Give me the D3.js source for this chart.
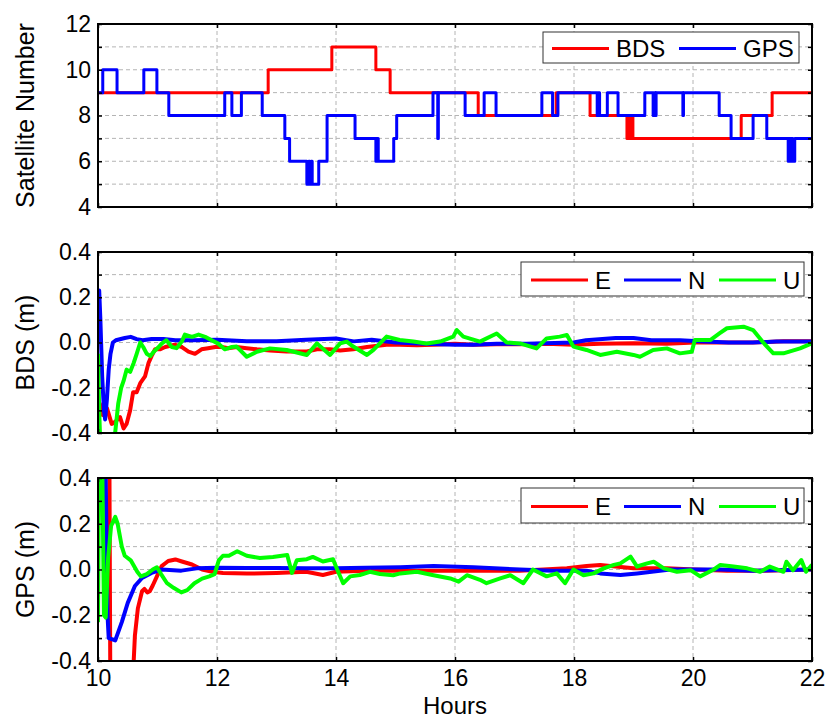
<!DOCTYPE html>
<html>
<head>
<meta charset="utf-8">
<script src="https://cdn.jsdelivr.net/npm/d3@7"></script>
<style>
body { margin: 0; background: #fff; }
text { font-family: "Liberation Sans", Arial, sans-serif; }
</style>
</head>
<body>
<svg width="826" height="720"></svg>
<script>
// ---- data: [hour, value] ----

// satellite counts (step changes)
var bdsSat = [[10,9],[12.86,10],[13.93,11],[14.67,10],[14.91,9],[16.39,8],[17.70,9],[18.27,8],
  [18.89,7],[18.92,8],[18.95,7],[18.97,8],[18.99,7],[20.81,8],[21.33,9],[22,9]];
var gpsSat = [[10,9],[10.08,10],[10.32,9],[10.77,10],[10.99,9],[11.19,8],[12.13,9],[12.25,8],[12.41,9],
  [12.76,8],[13.14,7],[13.22,6],[13.51,5],[13.54,6],[13.56,5],[13.58,6],[13.60,5],[13.71,6],[13.85,8],
  [14.32,7],[14.67,6],[14.69,7],[14.71,6],[14.97,7],[15.02,8],[15.63,9],[15.71,7],[15.72,9],[16.17,8],
  [16.49,9],[16.69,8],[17.46,9],[17.64,8],[17.73,9],[18.39,8],[18.41,9],[18.43,8],[18.56,9],[18.74,8],
  [19.19,9],[19.33,8],[19.35,9],[19.37,8],[19.38,9],[19.83,8],[19.84,9],[20.44,8],[20.64,7],[21.01,8],
  [21.24,7],[21.60,6],[21.62,7],[21.64,6],[21.66,7],[21.68,6],[21.71,7],[22,7]];

// BDS positioning errors (m)
var bdsE = [[10.00,-0.30],[10.03,-0.27],[10.08,-0.32],[10.15,-0.29],[10.23,-0.36],[10.29,-0.35],[10.37,-0.33],
  [10.43,-0.38],[10.48,-0.36],[10.54,-0.30],[10.59,-0.22],[10.65,-0.22],[10.71,-0.18],[10.79,-0.15],
  [10.85,-0.09],[10.90,-0.06],[10.96,-0.03],[11.04,-0.03],[11.13,-0.02],[11.29,-0.01],[11.41,-0.02],
  [11.52,-0.04],[11.63,-0.05],[11.74,-0.03],[11.85,-0.025],[11.97,-0.02],[12.08,-0.02],[12.19,-0.025],
  [12.33,-0.02],[12.50,-0.025],[12.67,-0.03],[12.89,-0.035],[13.17,-0.04],[13.51,-0.04],[13.68,-0.03],
  [13.90,-0.03],[14.07,-0.035],[14.29,-0.03],[14.52,-0.02],[14.85,-0.01],[15.07,-0.01],[15.36,-0.012],
  [15.64,-0.01],[16.00,-0.005],[16.31,-0.01],[16.70,-0.008],[17.09,-0.008],[17.54,-0.006],[17.99,-0.01],
  [18.44,-0.005],[19.00,-0.003],[19.56,-0.005],[20.03,0.0],[20.57,0.0],[21.01,0.0],[21.52,0.005],[22.00,0.005]];
var bdsN = [[10.00,0.00],[10.02,0.23],[10.04,0.10],[10.07,-0.15],[10.10,-0.30],[10.12,-0.34],[10.15,-0.25],
  [10.18,-0.12],[10.21,-0.05],[10.25,0.00],[10.30,0.01],[10.45,0.02],[10.55,0.025],[10.65,0.015],
  [10.75,0.01],[10.90,0.015],[11.10,0.015],[11.30,0.01],[11.60,0.01],[12.00,0.012],[12.50,0.005],
  [13.00,0.005],[13.50,0.012],[14.00,0.018],[14.30,0.005],[14.60,0.012],[15.00,0.0],[15.50,-0.005],
  [16.00,-0.01],[16.30,-0.01],[16.70,-0.005],[17.20,-0.005],[17.99,0.0],[18.20,0.01],[18.70,0.02],
  [19.00,0.02],[19.30,0.01],[19.78,0.01],[20.10,0.005],[20.60,0.0],[21.00,0.0],[21.40,0.004],[22.00,0.004]];
var bdsU = [[10.00,-0.05],[10.02,-0.30],[10.04,-0.46],[10.12,-0.55],[10.22,-0.50],[10.28,-0.42],[10.34,-0.27],
  [10.39,-0.20],[10.43,-0.17],[10.48,-0.12],[10.54,-0.13],[10.60,-0.09],[10.65,-0.05],[10.71,0.0],
  [10.76,-0.02],[10.82,-0.05],[10.88,-0.06],[10.94,-0.04],[11.02,-0.02],[11.07,-0.005],[11.15,0.01],
  [11.24,-0.02],[11.32,-0.025],[11.41,0.005],[11.46,0.035],[11.58,0.025],[11.69,0.035],[11.80,0.025],
  [11.91,0.01],[12.02,-0.005],[12.13,-0.03],[12.25,-0.02],[12.33,-0.018],[12.50,-0.063],[12.67,-0.041],
  [12.89,-0.026],[13.17,-0.033],[13.51,-0.055],[13.68,-0.004],[13.90,-0.055],[14.07,-0.004],[14.18,0.004],
  [14.29,-0.018],[14.52,-0.055],[14.63,-0.033],[14.85,0.026],[15.07,0.011],[15.30,0.004],[15.52,-0.004],
  [15.75,0.004],[15.97,0.026],[16.03,0.055],[16.14,0.026],[16.42,0.004],[16.70,0.04],[16.87,0.0],
  [17.09,-0.004],[17.37,-0.026],[17.54,0.018],[17.76,0.026],[17.88,0.033],[17.99,-0.018],[18.21,-0.033],
  [18.44,-0.055],[18.72,-0.041],[19.00,-0.055],[19.11,-0.063],[19.33,-0.033],[19.56,-0.026],[19.78,-0.048],
  [19.98,-0.041],[20.03,0.011],[20.29,0.011],[20.45,0.041],[20.57,0.063],[20.85,0.07],[21.01,0.055],
  [21.18,0.0],[21.35,-0.048],[21.52,-0.048],[21.80,-0.026],[22.00,-0.004]];

// GPS positioning errors (m)
var gpsE = [[10.00,0.60],[10.19,0.60],[10.21,-0.70],[10.57,-0.60],[10.60,-0.40],[10.62,-0.29],[10.67,-0.17],
  [10.74,-0.095],[10.78,-0.085],[10.83,-0.10],[10.87,-0.095],[10.92,-0.07],[10.99,-0.03],[11.07,0.015],
  [11.18,0.037],[11.30,0.044],[11.41,0.035],[11.58,0.022],[11.75,0.0],[11.92,-0.01],[12.10,-0.015],
  [12.50,-0.018],[13.00,-0.015],[13.50,-0.01],[13.78,-0.024],[14.00,-0.01],[14.50,-0.005],[15.08,-0.005],
  [15.64,-0.005],[16.31,-0.005],[17.09,-0.005],[17.88,0.005],[18.21,0.015],[18.44,0.02],[19.00,0.005],
  [19.56,0.005],[20.03,0.0],[20.57,-0.005],[21.18,-0.005],[22.00,0.0]];
var gpsN = [[10.00,0.60],[10.12,0.60],[10.14,0.20],[10.16,-0.20],[10.18,-0.30],[10.29,-0.31],[10.40,-0.23],
  [10.50,-0.146],[10.62,-0.072],[10.74,-0.037],[10.90,-0.015],[11.07,0.0],[11.40,-0.005],[11.66,0.005],
  [12.00,0.008],[12.50,0.007],[13.00,0.007],[13.50,0.005],[14.00,0.005],[14.50,0.008],[15.08,0.01],
  [15.64,0.015],[16.31,0.01],[17.09,0.0],[17.64,-0.005],[18.21,-0.005],[18.44,-0.017],[18.78,-0.024],
  [19.06,-0.017],[19.62,0.0],[20.45,0.0],[21.01,-0.005],[22.00,0.0]];
var gpsU = [[10.00,-0.23],[10.02,0.50],[10.07,0.50],[10.10,-0.20],[10.13,-0.21],[10.17,0.05],[10.22,0.19],
  [10.29,0.23],[10.33,0.20],[10.40,0.10],[10.45,0.06],[10.55,0.04],[10.66,-0.01],[10.72,-0.03],[10.82,-0.02],
  [10.92,0.0],[10.99,0.01],[11.06,-0.02],[11.16,-0.06],[11.27,-0.08],[11.40,-0.10],[11.50,-0.09],[11.62,-0.06],
  [11.75,-0.04],[11.87,-0.03],[11.96,-0.02],[12.03,0.04],[12.10,0.06],[12.20,0.06],[12.34,0.08],[12.50,0.06],
  [12.72,0.05],[12.94,0.055],[13.18,0.063],[13.26,-0.015],[13.34,0.04],[13.51,0.045],[13.61,0.055],
  [13.78,0.035],[13.95,0.045],[14.02,0.0],[14.12,-0.06],[14.24,-0.03],[14.40,-0.024],[14.57,-0.01],
  [14.74,-0.02],[14.96,-0.025],[15.08,-0.017],[15.36,-0.01],[15.64,-0.025],[15.92,-0.039],[16.06,-0.053],
  [16.20,-0.025],[16.42,-0.045],[16.53,-0.06],[16.76,-0.039],[16.93,-0.025],[17.15,-0.06],[17.31,0.0],
  [17.54,-0.03],[17.71,-0.017],[17.85,-0.06],[17.99,0.0],[18.16,-0.025],[18.33,-0.017],[18.50,0.005],
  [18.67,0.02],[18.78,0.027],[18.95,0.056],[19.06,0.013],[19.23,0.027],[19.34,0.034],[19.51,0.005],
  [19.73,-0.01],[19.96,-0.003],[20.12,-0.03],[20.35,0.0],[20.46,0.02],[20.68,0.013],[20.91,0.005],
  [21.13,-0.01],[21.29,0.013],[21.52,-0.01],[21.57,0.034],[21.68,-0.003],[21.82,0.041],[21.90,-0.01],[22.00,0.02]];

// ticks
var hourTicks = [10, 12, 14, 16, 18, 20, 22];
var satTicks = [4, 5, 6, 7, 8, 9, 10, 11, 12];
var satLabels = [4, 6, 8, 10, 12];
var errTicks = [-0.4, -0.3, -0.2, -0.1, 0, 0.1, 0.2, 0.3, 0.4];
var errLabels = [-0.4, -0.2, 0, 0.2, 0.4];

var svg = d3.select('svg');
var left = 98, right = 812;
var tickFont = '23px', legendFont = '24px', titleFont = '25px';

var x = d3.scaleLinear().domain([10, 22]).range([left, right]);

var panels = [
  {id: 'sat', top: 24, bottom: 207, domain: [4, 12], ticks: satTicks, labels: satLabels,
   fmt: function(d) { return String(d); }, title: 'Satellite Number', step: true, width: 3,
   series: [{name: 'BDS', color: '#ff0000', data: bdsSat}, {name: 'GPS', color: '#0000ff', data: gpsSat}],
   legend: {x: 543, y: 32, w: 256, h: 31, pos: [9, 136], line: 57, gap: 7}},
  {id: 'bds', top: 252, bottom: 433, domain: [-0.4, 0.4], ticks: errTicks, labels: errLabels,
   fmt: function(d) { return d.toFixed(1); }, title: 'BDS (m)', step: false, width: 4,
   series: [{name: 'E', color: '#ff0000', data: bdsE}, {name: 'N', color: '#0000ff', data: bdsN},
            {name: 'U', color: '#00ff00', data: bdsU}],
   legend: {x: 521, y: 262, w: 283, h: 34, pos: [10, 103, 198], line: 57, gap: 7}},
  {id: 'gps', top: 478, bottom: 661, domain: [-0.4, 0.4], ticks: errTicks, labels: errLabels,
   fmt: function(d) { return d.toFixed(1); }, title: 'GPS (m)', step: false, width: 4,
   series: [{name: 'E', color: '#ff0000', data: gpsE}, {name: 'N', color: '#0000ff', data: gpsN},
            {name: 'U', color: '#00ff00', data: gpsU}],
   legend: {x: 521, y: 488, w: 283, h: 35, pos: [10, 103, 198], line: 57, gap: 7}}
];

function styleAxis(a) {
  a.select('.domain').remove();
  a.attr('font-family', null).attr('font-size', null);
  a.selectAll('line').attr('stroke', '#000').attr('stroke-width', 1.5);
  a.selectAll('text').attr('fill', '#000').style('font-size', tickFont);
}

panels.forEach(function(p, pi) {
  var y = d3.scaleLinear().domain(p.domain).range([p.bottom, p.top]);
  var g = svg.append('g');

  // dashed grid
  g.selectAll('.hgrid').data(p.ticks.slice(1, -1)).enter().append('line')
    .attr('x1', left).attr('x2', right)
    .attr('y1', function(d) { return y(d); }).attr('y2', function(d) { return y(d); })
    .attr('stroke', '#b4b4b4').attr('stroke-width', 1).attr('stroke-dasharray', '4,3');
  g.selectAll('.vgrid').data(hourTicks.slice(1, -1)).enter().append('line')
    .attr('y1', p.top).attr('y2', p.bottom)
    .attr('x1', function(d) { return x(d); }).attr('x2', function(d) { return x(d); })
    .attr('stroke', '#b4b4b4').attr('stroke-width', 1).attr('stroke-dasharray', '4,3');

  // lines
  svg.append('clipPath').attr('id', 'clip' + pi).append('rect')
    .attr('x', left).attr('y', p.top).attr('width', right - left).attr('height', p.bottom - p.top);

  var line = d3.line()
    .x(function(d) { return x(d[0]); })
    .y(function(d) { return y(d[1]); })
    .curve(p.step ? d3.curveStepAfter : d3.curveLinear);

  g.append('g').attr('clip-path', 'url(#clip' + pi + ')')
    .selectAll('path').data(p.series).enter().append('path')
    .attr('d', function(s) { return line(s.data); })
    .attr('fill', 'none')
    .attr('stroke', function(s) { return s.color; })
    .attr('stroke-width', p.width)
    .attr('stroke-linejoin', 'round');

  // axes with inward ticks
  g.append('g').attr('transform', 'translate(' + left + ',0)')
    .call(d3.axisLeft(y).tickValues(p.ticks).tickSize(-4).tickPadding(7)
      .tickFormat(function(d) { return p.labels.indexOf(d) >= 0 ? p.fmt(d) : ''; }))
    .call(styleAxis);
  g.append('g').attr('transform', 'translate(' + right + ',0)')
    .call(d3.axisRight(y).tickValues(p.ticks).tickSize(-4).tickFormat(''))
    .call(styleAxis);
  g.append('g').attr('transform', 'translate(0,' + p.top + ')')
    .call(d3.axisTop(x).tickValues(hourTicks).tickSize(-4).tickFormat(''))
    .call(styleAxis);
  var isLast = pi === panels.length - 1;
  g.append('g').attr('transform', 'translate(0,' + p.bottom + ')')
    .call(d3.axisBottom(x).tickValues(hourTicks).tickSize(-4).tickPadding(9)
      .tickFormat(isLast ? d3.format('d') : ''))
    .call(styleAxis);

  // frame
  g.append('rect').attr('x', left).attr('y', p.top)
    .attr('width', right - left).attr('height', p.bottom - p.top)
    .attr('fill', 'none').attr('stroke', '#000').attr('stroke-width', 2);

  // y title
  g.append('text')
    .attr('transform', 'translate(34,' + ((p.top + p.bottom) / 2) + ') rotate(-90)')
    .attr('text-anchor', 'middle').style('font-size', titleFont).text(p.title);

  // legend
  var L = p.legend;
  var lg = g.append('g').attr('transform', 'translate(' + L.x + ',' + L.y + ')');
  lg.append('rect').attr('width', L.w).attr('height', L.h)
    .attr('fill', '#fff').attr('stroke', '#333').attr('stroke-width', 1);
  var item = lg.selectAll('.item').data(p.series).enter().append('g')
    .attr('transform', function(s, i) { return 'translate(' + L.pos[i] + ',' + (L.h / 2 + 1) + ')'; });
  item.append('line').attr('x1', 0).attr('x2', L.line)
    .attr('stroke', function(s) { return s.color; }).attr('stroke-width', 3);
  item.append('text').attr('x', L.line + L.gap).attr('dy', '0.36em')
    .style('font-size', legendFont).text(function(s) { return s.name; });
});

// x title
svg.append('text').attr('x', (left + right) / 2).attr('y', 714)
  .attr('text-anchor', 'middle').style('font-size', '24px').text('Hours');
</script>
</body>
</html>
